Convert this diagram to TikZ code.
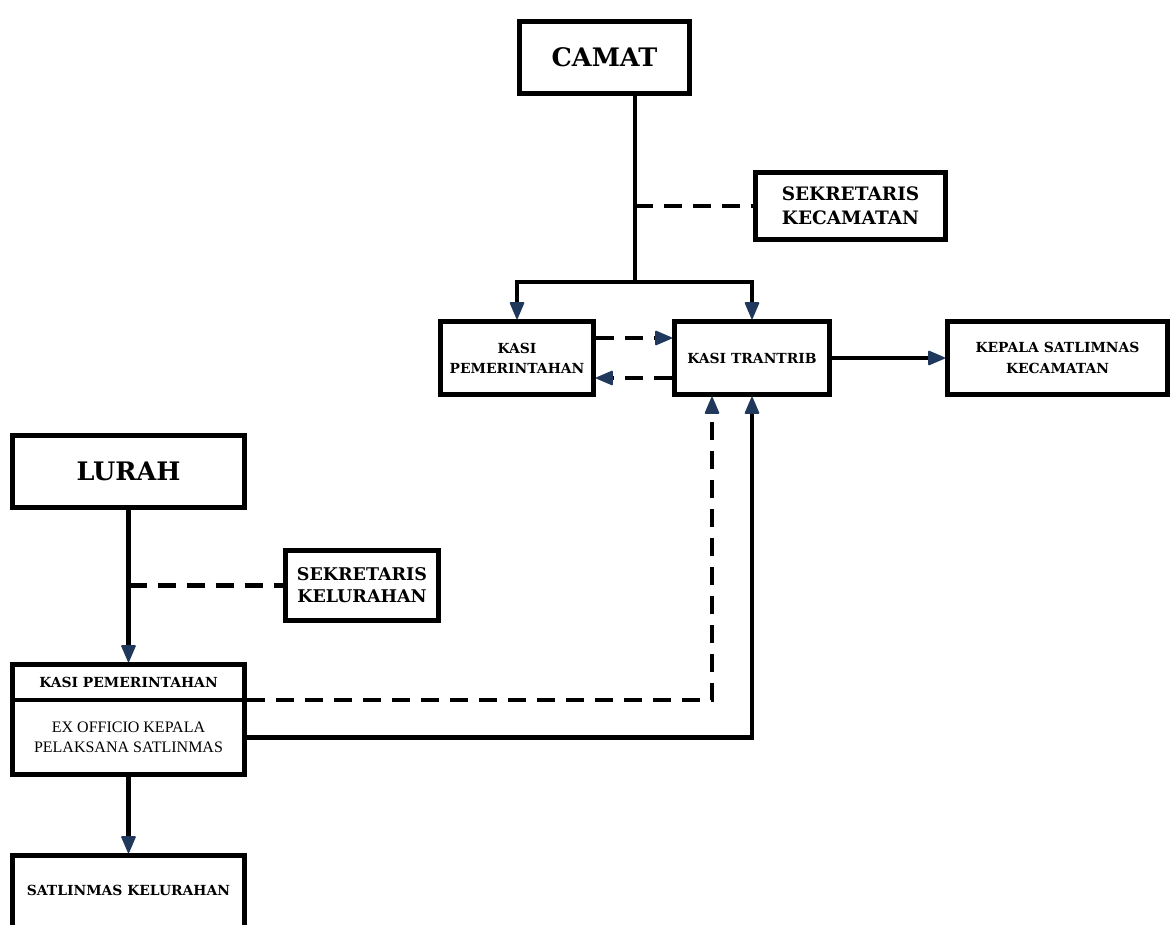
\documentclass[tikz,border=0pt]{standalone}
\usepackage{fontspec}
\setmainfont{DejaVu Serif}
\newfontfamily\plainserif{Liberation Serif}
\usetikzlibrary{arrows.meta,calc}
\definecolor{tipnavy}{RGB}{31,56,92}
\tikzset{
  box/.style={draw, line width=4.8pt, inner sep=0pt, align=center},
  bigtxt/.style={font=\bfseries\fontsize{25.5}{30}\selectfont},
  midtxt/.style={font=\bfseries\fontsize{18.5}{24}\selectfont},
  smalltxt/.style={font=\bfseries\fontsize{13.9}{20}\selectfont},
  link/.style={line width=4.6pt},
  dashlink/.style={link, dash pattern=on 18pt off 11pt},
  navyarrow/.style={-{Triangle[length=18pt,width=15pt,line width=1.5pt,round,color=tipnavy,fill=tipnavy]}},
}
\begin{document}
\begin{tikzpicture}[x=1pt,y=-1pt]
\useasboundingbox (0,0) rectangle (1172,925);

% Kecamatan level
\node[box,bigtxt,minimum width=170.2pt,minimum height=72.2pt] (camat) at (604.5,57.5) {CAMAT};
\node[box,midtxt,minimum width=190.2pt,minimum height=67.2pt] (sekkec) at (850.5,206) {SEKRETARIS\\KECAMATAN};
\node[box,smalltxt,minimum width=153.2pt,minimum height=73.2pt] (kasipem) at (517,358) {KASI\\PEMERINTAHAN};
\node[box,smalltxt,minimum width=155.2pt,minimum height=73.2pt] (trantrib) at (752,358) {KASI TRANTRIB};
\node[box,smalltxt,font=\bfseries\fontsize{13.9}{21}\selectfont,minimum width=220.2pt,minimum height=73.2pt] (kepala) at (1057.5,358) {KEPALA SATLIMNAS\\KECAMATAN};

% Kelurahan level
\node[box,bigtxt,minimum width=232.2pt,minimum height=72.2pt] (lurah) at (128.5,471.5) {LURAH};
\node[box,font=\bfseries\fontsize{17.5}{22}\selectfont,minimum width=153.2pt,minimum height=70.2pt] (sekkel) at (362,585.5) {SEKRETARIS\\KELURAHAN};
\node[box,smalltxt,minimum width=232.2pt,minimum height=35.6pt] (header) at (128.5,682.2) {KASI PEMERINTAHAN};
\node[box,font=\plainserif\fontsize{16}{20}\selectfont,minimum width=232.2pt,minimum height=74.6pt] (body) at (128.5,737.3) {EX OFFICIO KEPALA\\PELAKSANA SATLINMAS};
\node[smalltxt,inner sep=0pt,outer sep=0pt,minimum width=232.2pt,minimum height=69.6pt] (satkel) at (128.5,890.2) {SATLINMAS KELURAHAN};
\draw[line width=4.8pt] (satkel.south west) -- (satkel.north west) -- (satkel.north east) -- (satkel.south east);

% Camat trunk and branches
\coordinate (trunk) at (635,282);
\draw[link] (trunk |- camat.south) -- (trunk);
\draw[link,navyarrow] (trunk) -| (kasipem.north);
\draw[link,navyarrow] (trunk) -| (trantrib.north);
\draw[dashlink] (trunk |- sekkec.west) -- (sekkec.west);

% Coordination between sections
\coordinate (pe) at ([yshift=20pt]kasipem.east);
\coordinate (tw) at ([yshift=-20pt]trantrib.west);
\draw[dashlink,navyarrow] (pe) -- (pe -| trantrib.west);
\draw[dashlink,navyarrow] (tw) -- (tw -| kasipem.east);
\draw[link,navyarrow] (trantrib.east) -- (kepala.west);

% Lurah chain
\draw[link,navyarrow] (lurah.south) -- (header.north);
\draw[dashlink] (lurah.south |- sekkel.west) -- (sekkel.west);
\draw[link,navyarrow] (body.south) -- ([yshift=2.4pt]satkel.north);

% Reports up to Kasi Trantrib
\draw[dashlink,navyarrow] ([yshift=2.4pt]header.south east) -| ([xshift=-40pt]trantrib.south);
\draw[link,navyarrow] (body.east) -| (trantrib.south);
\end{tikzpicture}
\end{document}
